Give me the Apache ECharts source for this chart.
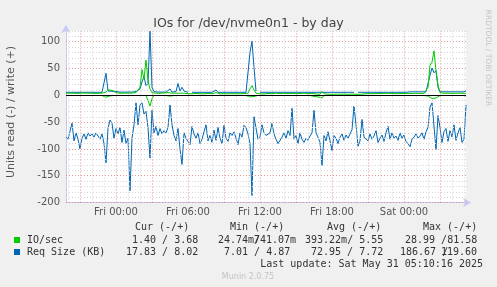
<!DOCTYPE html>
<html><head><meta charset="utf-8">
<script src="https://cdn.jsdelivr.net/npm/echarts@6/dist/echarts.min.js"></script>
<style>html,body{margin:0;padding:0;background:#f0f0f0;}#c{width:497px;height:287px;}</style>
</head><body><div id="c"></div>
<script>
// time axis: hours relative to Fri 00:00, one sample every 10 minutes
const startHour = -25 / 6;   // Thu 19:50
const stepHour = 1 / 6;
const endHour = 175 / 6;     // Sat 05:10
const xTickHours = [0, 6, 12, 18, 24];
const xTickLabels = ['Fri 00:00', 'Fri 06:00', 'Fri 12:00', 'Fri 18:00', 'Sat 00:00'];
const yTickValues = [-200, -150, -100, -50, 0, 50, 100];

// IO/sec write (+)
const ioWrite = [
 4,3.8,4,4.2,3.8,4,3.6,4,4.2,3.8, 4,3.8,4,4.2,3.6,4,3.8,4,4,4.5,
 6,10,9.5,9.5,9,5,4,3.8,4.2,4, 3.8,4,3.6,4.2,4,5,6,15,48,30,
 66,27,12,5,4.5,4,4.2,3.8,4,4.4, 4,5,8,4,4.5,4,6,4,5,4,
 3.5,3,3.2,2.8,3,3.4,2.6,3,3.2,2.8, 3,3.5,2.6,3,3.2,5,3,2.8,3.2,3,
 3,2.8,3.2,3,2.6,3,3.4,2.8,3,3.2, 3,4,12,18,10,4,3,2.8,3,2.5,
 2,3.5,1.5,3,2,4,1.8,3.2,2.2,3.8, 2,3,1.6,3.6,2.4,3,1.8,3.4,2,4,
 2.2,3,1.8,3.6,5,2.5,6,2,7,3, 5,2,3.4,1.8,3,2.2,3.6,2,3,2.4,
 3.2,1.8,3.6,2.2,3,2,3.4,1.8,3,2.6, 3.6,3.2,3.8,3,3.6,3.2,3.8,3.4,3,3.6,
 3.2,3.8,3,3.4,3.6,3,3.8,3.2,3.6,3.4, 3,3.6,5,3.4,3.2,3.8,3,3.6,3.2,3.4,
 4,15,56,62,83,46,19,5,4,3.8, 3.6,4,3.8,3.6,4,3.8,3.6,4,3.8,3.6,
 3.68
];
// IO/sec read (-)
const ioRead = [
 -0.4,-0.4,-0.4,-0.4,-0.4,-0.4,-0.4,-0.4,-0.4,-0.4, -0.4,-0.4,-0.4,-0.4,-0.4,-0.4,-0.4,-0.4,-0.4,-1,
 -3.5,-3,-1,-0.4,-0.4,-0.4,-0.4,-0.4,-0.4,-0.4, -0.4,-0.4,-0.4,-0.4,-0.4,-0.4,-0.4,-0.4,-0.4,-0.4,
 -0.4,-3,-20,-6,-0.4,-0.4,-0.4,-0.4,-0.4,-0.4, -0.4,-0.4,-1.5,-0.4,-0.4,-0.4,-0.4,-0.4,-0.4,-0.4,
 -0.4,-0.4,-0.4,-0.4,-0.4,-0.4,-0.4,-0.4,-0.4,-0.4, -0.4,-0.4,-0.4,-0.4,-0.4,-0.4,-0.4,-0.4,-0.4,-0.4,
 -0.4,-0.4,-0.4,-0.4,-0.4,-0.4,-0.4,-0.4,-0.4,-0.4, -0.4,-0.4,-3,-5,-2,-0.4,-0.4,-0.4,-0.4,-0.4,
 -0.4,-0.4,-0.4,-0.4,-0.4,-0.4,-0.4,-0.4,-0.4,-0.4, -0.4,-0.4,-0.4,-2,-0.4,-0.4,-0.4,-0.4,-0.4,-0.4,
 -0.4,-0.4,-0.4,-0.4,-2,-0.4,-3,-0.4,-5,-0.4, -4,-0.4,-2.5,-0.4,-0.4,-0.4,-0.4,-0.4,-0.4,-0.4,
 -0.4,-0.4,-0.4,-0.4,-2,-0.4,-0.4,-0.4,-0.4,-0.4, -0.4,-0.4,-0.4,-0.4,-0.4,-0.4,-0.4,-0.4,-0.4,-0.4,
 -0.4,-0.4,-0.4,-0.4,-0.4,-0.4,-0.4,-0.4,-0.4,-0.4, -0.4,-0.4,-0.4,-0.4,-0.4,-0.4,-0.4,-0.4,-0.4,-0.4,
 -0.4,-1.5,-4,-6,-7,-5,-3,-0.4,-0.4,-0.4, -0.4,-0.4,-0.4,-0.4,-0.4,-0.4,-0.4,-0.4,-0.4,-0.4,
 -1.4
];
// Req Size (KB) write (+)
const reqWrite = [
 5.6,5.6,5.6,5.6,5.6,5.6,5.6,5.6,5.6,5.6, 5.6,5.6,5.6,5.6,5.6,5.6,5.6,5.6,5.6,6,
 41,8,8,7.5,7,7,6.5,6,6,6, 6,6,6,6,6.5,7,9,12,25,35,
 18,22,119.6,15,7,6,6,6,6,6, 6,7,12,6,6,7,22,8,15,8,
 6,5.6,null,5.6,5.6,5.6,5.6,5.6,5.6,5.6, 5.6,5.6,5.6,5.6,5.6,10,5.6,5.6,5.6,5.6,
 5.6,5.6,5.6,5.6,5.6,5.6,5.6,5.6,5.6,5.6, 5.6,6,80,101,52,8,null,5.6,5.6,5.6,
 5.6,5.6,5.6,5.6,5.6,5.6,5.6,5.6,5.6,5.6, 5.6,5.6,5.6,5.6,5.6,5.6,5.6,5.6,5.6,5.6,
 5.6,5.6,5.6,5.6,5.6,5.6,5.6,5.6,9,5.6, 5.6,5.6,5.6,5.6,5.6,5.6,5.6,5.6,5.6,5.6,
 5.6,5.6,5.6,5.6,5.6,null,5.6,5.6,5.6,5.6, 5.6,5.6,5.6,5.6,5.6,5.6,5.6,5.6,5.6,5.6,
 5.6,5.6,5.6,5.6,5.6,5.6,5.6,5.6,5.6,5.6, 5.6,7,6.5,6.5,6.5,6.5,6.5,6.5,6.5,6.5,
 6.5,10,37,51,42,46,15,6.5,6.5,6.5, 6.5,6.5,6.5,6.5,6.5,6.5,6.5,6.5,6.5,6.5,
 8.02
];
// Req Size (KB) read (-)
const reqRead = [
 -78,-82,-80,-52,-85,-70,-82,-100,-80,-72, -82,-70,-76,-72,-78,-70,-76,-82,-72,-90,
 -126,-62,-46,-52,-80,-62,-72,-60,-88,-65, -90,-80,-178,-80,-55,-14,-55,-18,-14,-35,
 -30,-60,-117,-28,-70,-58,-75,-62,-72,-66, -70,-60,-18,-55,-75,-85,-62,-100,-129,-70,
 -80,-78,-92,-58,-72,-80,-70,-90,-82,-68, -55,-85,-75,-88,-65,-84,-60,-80,-90,-56,
 -80,-86,-70,-75,-68,-80,-92,-70,-78,-56, -60,-72,-90,-187,-40,-42,-82,-78,-55,-70,
 -75,-78,-70,-52,-72,-82,-90,-88,-78,-70, -80,-66,-75,-24,-82,-75,-90,-70,-82,-88,
 -80,-84,-76,-70,-28,-70,-78,-88,-131,-75, -85,-68,-85,-103,-75,-80,-90,-78,-72,-84,
 -74,-80,-72,-64,-20,-55,-95,-85,-45,-78, -80,-85,-72,-82,-76,-66,-88,-80,-74,-86,
 -70,-58,-82,-70,-80,-76,-84,-70,-80,-74, -86,-90,-96,-82,-78,-72,-80,-76,-70,-82,
 -68,-60,-22,-14,-16,-101,-38,-60,-88,-68, -62,-86,-66,-78,-55,-84,-70,-60,-88,-82,
 -17.83
];

// legend table
const legendHeaders = ['Cur (-/+)', 'Min (-/+)', 'Avg (-/+)', 'Max (-/+)'];
const ioLabel = 'IO/sec';
const reqLabel = 'Req Size (KB)';
const ioCur = '1.40 / 3.68', ioMinA = '24.74m/', ioMinB = '741.07m', ioAvg = '393.22m/ 5.55', ioMax = '28.99 /81.58';
const reqCur = '17.83 / 8.02', reqMin = '7.01 / 4.87', reqAvg = '72.95 / 7.72', reqMaxA = '186.67 /', reqMaxB = '119.60';
const lastUpdate = 'Last update: Sat May 31 05:10:16 2025';
const titleText = 'IOs for /dev/nvme0n1 - by day';
const yName = 'Units read (-) / write (+)';

const GREEN = '#00cc00', BLUE = '#0066b3';
const toPairs = arr => arr.map((v, i) => [startHour + i * stepHour, v]);

const gridH = [];
for (let h = -4; h <= 29; h++) gridH.push(h);
const gridV = [];
for (let v = -200; v <= 120; v += 10) gridV.push(v);
const RED = 'rgba(225,140,140,0.9)', GRAY = '#d6d6d6';
const gridLines = [];
gridH.forEach(h => gridLines.push({xAxis: h, lineStyle: {color: h % 3 === 0 ? RED : GRAY, type: [1, 2], width: 1}}));
gridV.forEach(v => gridLines.push({yAxis: v, lineStyle: {color: v % 50 === 0 ? RED : GRAY, type: [1, 2], width: 1}}));

const mono = '10px "DejaVu Sans Mono"';
const txt = (x, y, s, opts) => Object.assign({type: 'text', x: x, y: y, silent: true,
  style: Object.assign({text: s, font: mono, fill: '#333', align: 'left', verticalAlign: 'middle', textAlign: 'left', textVerticalAlign: 'middle'}, opts || {})});

const chart = echarts.init(document.getElementById('c'), null, {renderer: 'canvas'});
const lineS = (name, data, color, z) => ({
  name, type: 'line', data: toPairs(data), z: z, showSymbol: false, symbol: 'none',
  connectNulls: false, animation: false, silent: true,
  lineStyle: {color: color, width: 1}, itemStyle: {color: color}
});

chart.setOption({
  backgroundColor: '#f0f0f0',
  animation: false,
  title: {text: titleText, left: 'center', top: 12,
    textStyle: {fontFamily: 'DejaVu Sans', fontSize: 12.5, fontWeight: 'normal', color: '#444'}},
  grid: {left: 66, right: 31, top: 31, bottom: 84.5, show: true, backgroundColor: '#ffffff', borderWidth: 0, containLabel: false},
  xAxis: {
    type: 'value', min: startHour, max: endHour,
    splitLine: {show: false},
    axisLine: {show: true, onZero: false, lineStyle: {color: '#c8c8f4', width: 1},
      symbol: ['none', 'arrow'], symbolSize: [7, 8], symbolOffset: [0, 5]},
    axisTick: {show: false},
    axisLabel: {customValues: xTickHours, margin: 5, color: '#555', fontFamily: 'DejaVu Sans', fontSize: 10,
      formatter: v => { const k = xTickHours.indexOf(Math.round(v)); return k >= 0 ? xTickLabels[k] : ''; }}
  },
  yAxis: {
    type: 'value', min: -200, max: 120,
    splitLine: {show: false},
    axisLine: {show: true, onZero: false, lineStyle: {color: '#c8c8f4', width: 1},
      symbol: ['none', 'arrow'], symbolSize: [7, 8], symbolOffset: [0, 6]},
    axisTick: {show: false},
    axisLabel: {customValues: yTickValues, margin: 6, color: '#555', fontFamily: 'DejaVu Sans', fontSize: 10}
  },
  graphic: [
    {type: 'text', x: 11, y: 112, rotation: Math.PI / 2, silent: true,
      style: {text: yName, font: '11px "DejaVu Sans"', fill: '#555', align: 'center', verticalAlign: 'middle', textAlign: 'center', textVerticalAlign: 'middle'}},
    {type: 'text', x: 488, y: 58, rotation: -Math.PI / 2, silent: true,
      style: {text: 'RRDTOOL / TOBI OETIKER', font: '7.5px "DejaVu Sans"', fill: '#c4c4c4', align: 'center', verticalAlign: 'middle', textAlign: 'center', textVerticalAlign: 'middle'}},
    txt(135, 227.5, legendHeaders[0]), txt(230, 227.5, legendHeaders[1]), txt(327, 227.5, legendHeaders[2]), txt(423, 227.5, legendHeaders[3]),
    {type: 'rect', silent: true, shape: {x: 14, y: 237, width: 6, height: 6}, style: {fill: GREEN}},
    {type: 'rect', silent: true, shape: {x: 14, y: 249, width: 6, height: 6}, style: {fill: BLUE}},
    txt(27, 240, ioLabel), txt(132, 240, ioCur), txt(218, 240, ioMinA), txt(254, 240, ioMinB), txt(305, 240, ioAvg), txt(405, 240, ioMax),
    txt(27, 252, reqLabel), txt(126, 252, reqCur), txt(224, 252, reqMin), txt(311, 252, reqAvg), txt(400, 252, reqMaxA), txt(441, 252, reqMaxB),
    txt(483, 264, lastUpdate, {align: 'right', textAlign: 'right'}),
    {type: 'text', x: 248, y: 276.5, silent: true,
      style: {text: 'Munin 2.0.75', font: '8px "DejaVu Sans"', fill: '#c4c4c4', align: 'center', verticalAlign: 'middle', textAlign: 'center', textVerticalAlign: 'middle'}}
  ],
  series: [
    {type: 'line', data: [], z: 1, silent: true, animation: false,
      markLine: {silent: true, animation: false, symbol: ['none', 'none'], label: {show: false}, data: gridLines}},
    lineS('Req Size read', reqRead, BLUE, 3),
    lineS('IO/sec read', ioRead, GREEN, 4),
    {type: 'line', data: [], z: 5, silent: true, animation: false,
      markLine: {silent: true, animation: false, symbol: ['none', 'none'], label: {show: false},
        data: [{yAxis: 0, lineStyle: {color: '#000', type: 'solid', width: 1}}]}},
    lineS('Req Size write', reqWrite, BLUE, 6),
    lineS('IO/sec write', ioWrite, GREEN, 7)
  ]
});
</script></body></html>
